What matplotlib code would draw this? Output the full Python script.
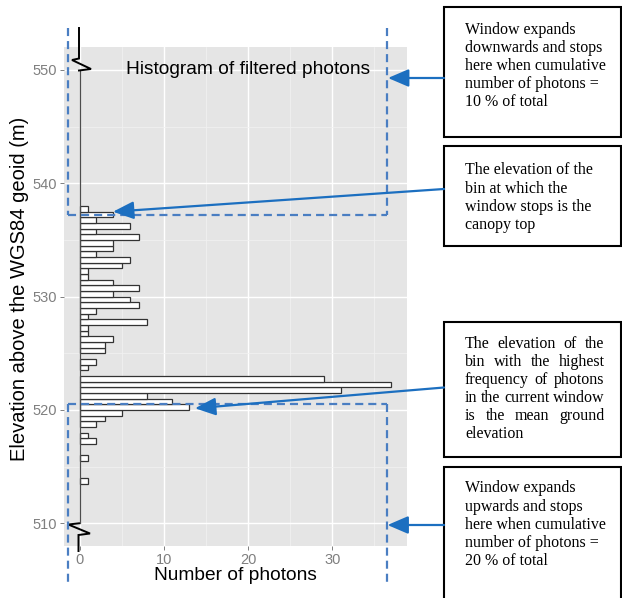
import matplotlib
matplotlib.use("Agg")
import matplotlib.pyplot as plt
from matplotlib.patches import Rectangle

# Photon histogram: 0.5 m elevation bins starting at 513.5 m
bin_width = 0.5
first_bin = 513.5
counts = [1, 0, 0, 0, 1, 0, 0, 2, 1, 0,        # 513.5 - 518.0
          2, 3, 5, 13, 11, 8, 31, 37, 29, 0,   # 518.5 - 523.0
          1, 2, 0, 3, 3, 4, 1, 1, 8, 1,        # 523.5 - 528.0
          2, 7, 6, 4, 7, 4, 1, 1, 5, 6,        # 528.5 - 533.0
          2, 4, 4, 7, 2, 6, 2, 4, 1]           # 533.5 - 537.5

count_ticks = [0, 10, 20, 30]
elev_ticks = [510, 520, 530, 540, 550]
count_minor = [5, 15, 25, 35]
elev_minor = [515, 525, 535, 545]

title_text = "Histogram of filtered photons"
xlabel_text = "Number of photons"
ylabel_text = "Elevation above the WGS84 geoid (m)"

notes = [
    (["Window expands", "downwards and stops", "here when cumulative",
      "number of photons =", "10 % of total"], False),
    (["The elevation of the", "bin at which the", "window stops is the",
      "canopy top"], False),
    (["The elevation of the", "bin with the highest", "frequency of photons",
      "in the current window", "is the mean ground", "elevation"], True),
    (["Window expands", "upwards and stops", "here when cumulative",
      "number of photons =", "20 % of total"], False),
]

plt.rcParams["lines.scale_dashes"] = False
SANS = ["Liberation Sans", "DejaVu Sans"]
SERIF = ["Liberation Serif", "DejaVu Serif"]

W, H = 622, 598
fig = plt.figure(figsize=(W / 100, H / 100), dpi=100)
fig.patch.set_facecolor("white")

# ---- main histogram panel (ggplot-like grey theme) ----
px_l, px_r, px_t, px_b = 64, 406.7, 47.3, 546
ax = fig.add_axes([px_l / W, (H - px_b) / H, (px_r - px_l) / W, (px_b - px_t) / H])
ax.set_facecolor("#E5E5E5")
for s in ax.spines.values():
    s.set_visible(False)

bottoms = [first_bin + i * bin_width for i in range(len(counts))]
nz = [(b, c) for b, c in zip(bottoms, counts) if c > 0]
ax.barh([b for b, _ in nz], [c for _, c in nz], height=bin_width, align="edge",
        color="white", edgecolor="#333333", linewidth=0.9, zorder=3)

ax.set_xlim(-1.85, 38.85)
ax.set_ylim(508, 552)
ax.set_xticks(count_ticks)
ax.set_yticks(elev_ticks)
ax.set_xticks(count_minor, minor=True)
ax.set_yticks(elev_minor, minor=True)
ax.set_axisbelow(True)
ax.grid(which="major", color="white", linewidth=1.0)
ax.grid(which="minor", color="#F2F2F2", linewidth=0.5)
ax.tick_params(which="major", length=2.9, width=0.7, color="#7F7F7F",
               labelcolor="#7F7F7F", labelsize=10.5, pad=2.5)
ax.tick_params(which="minor", length=0)
for lab in ax.get_xticklabels() + ax.get_yticklabels():
    lab.set_family(SANS)

# axis line at zero counts spanning the elevation range
ax.plot([0, 0], [elev_ticks[0], elev_ticks[-1]], color="#4D4D4D", linewidth=0.9, zorder=4)

ax.text(20, 550, title_text, ha="center", va="center", fontsize=13.8,
        family=SANS, color="black", zorder=5)

ax.set_xlabel(xlabel_text, fontsize=13.8, family=SANS, color="black")
ax.set_ylabel(ylabel_text, fontsize=14.5, family=SANS, color="black")
ax.xaxis.label.set_va("center")
ax.yaxis.label.set_va("center")
ax.yaxis.label.set_ha("center")
ax.xaxis.set_label_coords(0.5, (px_b - 576) / (px_b - px_t))
ax.yaxis.set_label_coords((20 - px_l) / (px_r - px_l), (px_b - 289) / (px_b - px_t))

# ---- annotation layer in pixel coordinates ----
ov = fig.add_axes([0, 0, 1, 1], zorder=10)
ov.set_xlim(0, W)
ov.set_ylim(H, 0)
ov.axis("off")
ov.patch.set_alpha(0)

# axis-break zigzags
zig_col = "black"
ov.plot([79, 79, 72, 91, 79], [28, 58.5, 60, 69, 70.5], color=zig_col, lw=1.4,
        solid_joinstyle="miter")
ov.plot([79, 68.3, 90, 78.5, 78.5], [523.3, 524.5, 533.5, 535, 551], color=zig_col, lw=1.4,
        solid_joinstyle="miter")

# search windows (dashed)
dash = dict(color="#4A7EC2", lw=1.6, linestyle=(0, (5.8, 3.6)))
xl, xr = 68.3, 386.5
ov.plot([xl, xl], [28, 215.3], **dash)
ov.plot([xr, xr], [28, 215.3], **dash)
ov.plot([xl, xr], [215.3, 215.3], **dash)
ov.plot([xl, xr], [404.3, 404.3], **dash)
ov.plot([xl, xl], [404.3, 585], **dash)
ov.plot([xr, xr], [404.3, 585], **dash)

# arrows from the notes
arrow_col = "#1C6FC0"
arrows = [((444, 78), (388, 78)),
          ((444, 189), (113, 211.7)),
          ((444, 387.5), (195, 408.3)),
          ((444, 525), (387.5, 525))]
for start, tip in arrows:
    ov.annotate("", xy=tip, xytext=start,
                arrowprops=dict(arrowstyle="-|>,head_length=0.7,head_width=0.3",
                                color=arrow_col, lw=1.6, mutation_scale=18,
                                shrinkA=0, shrinkB=0))

# note boxes
boxes = [(7.3, 136.7), (146.3, 246), (321.7, 456.7), (466.7, 605)]
first_baselines = [34, 174.5, 348, 492.5]
line_step = 18.1
text_x0, text_x1 = 465, 604.5
fs_note = 11.5
renderer = fig.canvas.get_renderer()


def word_width(word):
    t = ov.text(0, 0, word, fontsize=fs_note, family=SERIF)
    w = t.get_window_extent(renderer).width
    t.remove()
    return w


for (top, bot), base, (lines, justify) in zip(boxes, first_baselines, notes):
    ov.add_patch(Rectangle((444, top), 177, bot - top, facecolor="white",
                           edgecolor="black", lw=1.5, zorder=1))
    for k, line in enumerate(lines):
        y = base + k * line_step
        if justify and k < len(lines) - 1:
            words = line.split()
            widths = [word_width(w) for w in words]
            gap = (text_x1 - text_x0 - sum(widths)) / (len(words) - 1)
            x = text_x0
            for w, wd in zip(words, widths):
                ov.text(x, y, w, fontsize=fs_note, family=SERIF, ha="left",
                        va="baseline", color="black", zorder=2)
                x += wd + gap
        else:
            ov.text(text_x0, y, line, fontsize=fs_note, family=SERIF, ha="left",
                    va="baseline", color="black", zorder=2)

fig.savefig("out.png", dpi=100)
